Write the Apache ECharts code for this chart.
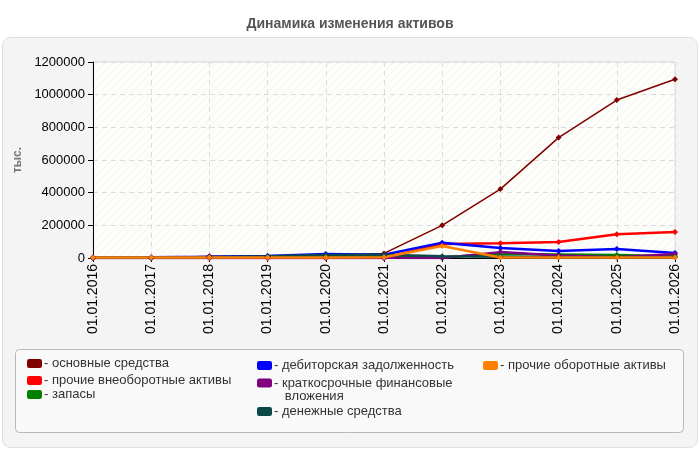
<!DOCTYPE html>
<html>
<head>
<meta charset="utf-8">
<script src="https://cdn.jsdelivr.net/npm/echarts@6/dist/echarts.min.js"></script>
<style>
  html, body { margin: 0; padding: 0; background: #fff; }
  #main { width: 700px; height: 450px; }
</style>
</head>
<body>
<div id="main"></div>
<script>
// данные графика
const dates = ['01.01.2016', '01.01.2017', '01.01.2018', '01.01.2019', '01.01.2020', '01.01.2021',
  '01.01.2022', '01.01.2023', '01.01.2024', '01.01.2025', '01.01.2026'];

const osnovnye = [0, 0, 10000, 10000, 15000, 28000, 200000, 422000, 737000, 967000, 1094000];
const prochieVneob = [0, 0, 0, 0, 0, 0, 85000, 90000, 98000, 145000, 159000];
const zapasy = [3000, 3000, 5000, 5000, 10000, 15000, 5000, 25000, 22000, 18000, 10000];
const debitorskaya = [5000, 5000, 8000, 12000, 24000, 20000, 94000, 61000, 43000, 55000, 30000];
const kratkosrochnye = [0, 0, 0, 0, 0, 0, 0, 36000, 15000, 5000, 24000];
const denezhnye = [2000, 2000, 5000, 10000, 18000, 20000, 10000, 8000, 5000, 5000, 5000];
const prochieOborot = [3000, 3000, 3000, 3000, 3000, 5000, 73000, 3000, 3000, 3000, 3000];

const yTicks = [0, 200000, 400000, 600000, 800000, 1000000, 1200000];

const seriesList = [
  { name: 'основные средства', data: osnovnye, color: '#800000', width: 1.5 },
  { name: 'прочие внеоборотные активы', data: prochieVneob, color: '#ff0000', width: 2.5 },
  { name: 'запасы', data: zapasy, color: '#008000', width: 2.5 },
  { name: 'дебиторская задолженность', data: debitorskaya, color: '#0000ff', width: 2.5 },
  { name: 'краткосрочные финансовые вложения', data: kratkosrochnye, color: '#800080', width: 2.5 },
  { name: 'денежные средства', data: denezhnye, color: '#0b4848', width: 2.5 },
  { name: 'прочие оборотные активы', data: prochieOborot, color: '#ff8000', width: 2.5 }
];

// позиции легенды [left, centerY первой строки]
const legendPos = [[27, 364], [27, 381], [27, 395], [257, 366], [257, 383], [257, 412], [483, 366]];

// штриховка фона области графика
const hatch = document.createElement('canvas');
hatch.width = 8;
hatch.height = 8;
const hctx = hatch.getContext('2d');
hctx.fillStyle = '#fdfdfa';
hctx.fillRect(0, 0, 8, 8);
hctx.strokeStyle = '#f3f3f1';
hctx.lineWidth = 1;
hctx.beginPath();
hctx.moveTo(0, 8); hctx.lineTo(8, 0);
hctx.moveTo(-4, 4); hctx.lineTo(4, -4);
hctx.moveTo(4, 12); hctx.lineTo(12, 4);
hctx.stroke();

const chart = echarts.init(document.getElementById('main'));

const legends = seriesList.map((s, i) => {
  const twoLines = s.name === 'краткосрочные финансовые вложения';
  return {
    data: [s.name],
    left: legendPos[i][0],
    top: legendPos[i][1] - (twoLines ? 19.5 : 7),
    orient: 'vertical',
    icon: 'roundRect',
    itemWidth: 15,
    itemHeight: 9,
    itemGap: 0,
    padding: 0,
    selectedMode: false,
    textStyle: {
      fontFamily: 'Liberation Sans', fontSize: 13, color: '#333', lineHeight: 13,
      padding: [0, 0, 0, -3]
    },
    // пустая первая строка, чтобы значок встал на уровне первой строки текста
    formatter: (name) => twoLines ? '\n- краткосрочные финансовые\n   вложения' : '- ' + name
  };
});

chart.setOption({
  animation: false,
  title: {
    text: 'Динамика изменения активов',
    left: 'center',
    top: 12,
    textStyle: { fontFamily: 'Liberation Sans', fontSize: 14, fontWeight: 'bold', color: '#555' }
  },
  graphic: [
    {
      type: 'rect', z: -10,
      shape: { x: 2.5, y: 37.5, width: 695, height: 410, r: 8 },
      style: { fill: '#f4f4f4', stroke: '#dedede', lineWidth: 1 }
    },
    {
      type: 'rect', z: -9,
      shape: { x: 15.5, y: 349.5, width: 668, height: 83, r: 4 },
      style: { fill: '#f9f9f9', stroke: '#b8b8b8', lineWidth: 1 }
    }
  ],
  legend: legends,
  grid: {
    left: 93, right: 25, top: 62, bottom: 192,
    show: true,
    backgroundColor: { image: hatch, repeat: 'repeat' },
    borderColor: '#dddddd',
    borderWidth: 1
  },
  xAxis: {
    type: 'category',
    data: dates,
    boundaryGap: false,
    axisLine: { lineStyle: { color: '#000', width: 1 } },
    axisTick: { show: true, length: 4, lineStyle: { color: '#000' } },
    axisLabel: { rotate: 90, fontFamily: 'Liberation Sans', fontSize: 14, color: '#000', margin: 6 },
    splitLine: { show: true, lineStyle: { color: '#dcdcdc', type: [5, 4] } }
  },
  yAxis: {
    type: 'value',
    min: yTicks[0],
    max: yTicks[yTicks.length - 1],
    interval: yTicks[1] - yTicks[0],
    name: 'тыс.',
    nameLocation: 'middle',
    nameGap: 68,
    nameRotate: 90,
    nameTextStyle: { fontFamily: 'Liberation Sans', fontSize: 12, fontWeight: 'bold', color: '#777' },
    axisLine: { show: true, lineStyle: { color: '#000', width: 1 } },
    axisTick: { show: true, length: 5, lineStyle: { color: '#000' } },
    axisLabel: {
      fontFamily: 'Liberation Sans', fontSize: 13, color: '#000', margin: 8,
      formatter: (v) => String(v)
    },
    splitLine: { show: true, lineStyle: { color: '#dcdcdc', type: [5, 4] } }
  },
  series: seriesList.map((s) => ({
    name: s.name,
    type: 'line',
    data: s.data,
    symbol: 'diamond',
    symbolSize: 6,
    showSymbol: true,
    itemStyle: { color: s.color },
    lineStyle: { color: s.color, width: s.width }
  }))
});
</script>
</body>
</html>
